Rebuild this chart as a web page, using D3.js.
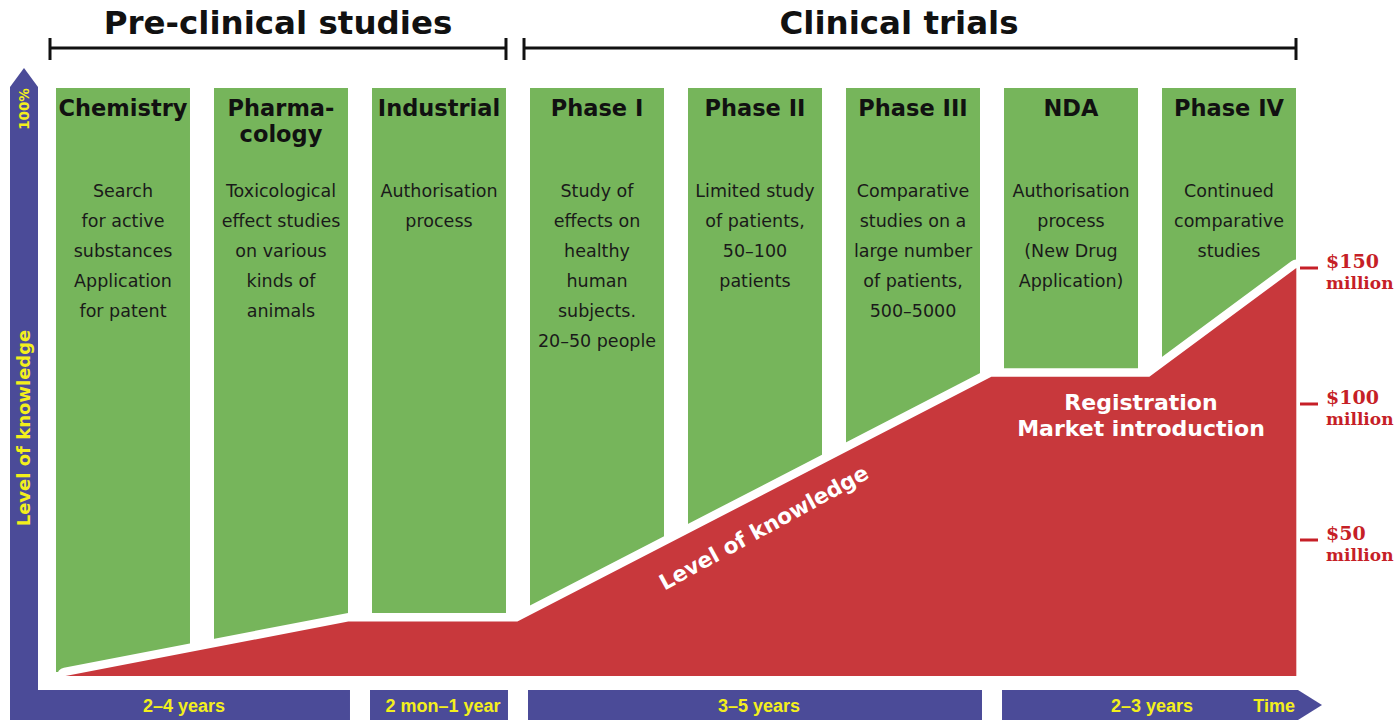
<!DOCTYPE html>
<html>
<head>
<meta charset="utf-8">
<script src="https://cdn.jsdelivr.net/npm/d3@7"></script>
<style>
  body { margin: 0; background: #fff; }
  svg { display: block; }
</style>
</head>
<body>
<svg id="chart"></svg>
<script>
// stages of drug development (one green column each)
const stageTitles = [
    ["Chemistry"], ["Pharma-", "cology"], ["Industrial"], ["Phase I"],
    ["Phase II"], ["Phase III"], ["NDA"], ["Phase IV"]
];
const stageNotes = [
    ["Search", "for active", "substances", "Application", "for patent"],
    ["Toxicological", "effect studies", "on various", "kinds of", "animals"],
    ["Authorisation", "process"],
    ["Study of", "effects on", "healthy", "human", "subjects.", "20–50 people"],
    ["Limited study", "of patients,", "50–100", "patients"],
    ["Comparative", "studies on a", "large number", "of patients,", "500–5000"],
    ["Authorisation", "process", "(New Drug", "Application)"],
    ["Continued", "comparative", "studies"]
];

// brackets on top
const groupLabels = ["Pre-clinical studies", "Clinical trials"];
const groupSpans = [[0, 2], [3, 7]];

// durations along the time axis
const durationLabels = ["2–4 years", "2 mon–1 year", "3–5 years", "2–3 years"];
const durationSpans = [[0, 1], [2, 2], [3, 5], [6, 7]];

// cumulative cost / level of knowledge, position in stage units
const knowledgeStage = [0.06, 1.85, 2.92, 5.92, 6.92, 7.85];
const knowledgeCost = [0, 20, 20, 110, 110, 150];

const costTicks = [50, 100, 150];

const BLUE = "#4b4b98", GREEN = "#76b55b", RED = "#c8383c", YELLOW = "#f3ef1c", TICKRED = "#c61f27";
const SANS = "DejaVu Sans, Verdana, sans-serif";

class PipelineChart {

    constructor(svg, width = 1399, height = 721) {
        this.svg = d3.select(svg).attr("width", width).attr("height", height);
        this.width = width;
        this.height = height;
    }

    initialize() {
        this.x = d3.scaleBand()
            .domain(d3.range(stageTitles.length))
            .range([56, 1296])
            .paddingInner(0.152);
        this.stageX = d3.scaleLinear()
            .domain([0, stageTitles.length])
            .range([56, 56 + this.x.step() * stageTitles.length]);
        this.y = d3.scaleLinear().domain([0, 150]).range([676, 268]);

        this.drawAxes();
        this.drawColumns();
        this.drawKnowledge();
        this.drawBrackets();
        this.drawDurations();
        this.drawCostTicks();
    }

    drawAxes() {
        // vertical arrow of the L
        this.svg.append("path")
            .attr("d", "M10,720 L10,87 L24,68 L38,87 L38,720 Z")
            .attr("fill", BLUE);

        const g = this.svg.append("g").attr("fill", YELLOW)
            .attr("font-family", SANS)
            .attr("font-weight", "bold");
        g.append("text")
            .attr("transform", "translate(29,109) rotate(-90)")
            .attr("text-anchor", "middle")
            .attr("font-size", 13.5)
            .text("100%");
        g.append("text")
            .attr("transform", "translate(30,428) rotate(-90)")
            .attr("text-anchor", "middle")
            .attr("font-size", 18)
            .text("Level of knowledge");
    }

    drawColumns() {
        const x = this.x;
        const cols = this.svg.append("g").selectAll("g")
            .data(stageTitles)
            .join("g")
            .attr("transform", (d, i) => `translate(${x(i)},0)`);

        cols.append("rect")
            .attr("y", 88)
            .attr("width", x.bandwidth())
            .attr("height", 676 - 88 - 4)
            .attr("fill", GREEN);

        cols.append("text")
            .attr("x", x.bandwidth() / 2)
            .attr("text-anchor", "middle")
            .attr("font-family", SANS)
            .attr("font-weight", "bold")
            .attr("font-size", 22.5)
            .attr("fill", "#111")
            .selectAll("tspan")
            .data(d => d)
            .join("tspan")
            .attr("x", x.bandwidth() / 2)
            .attr("y", (d, i) => 116 + i * 26)
            .text(d => d);

        cols.append("text")
            .attr("text-anchor", "middle")
            .attr("font-family", SANS)
            .attr("font-size", 17.5)
            .attr("fill", "#1a1a1a")
            .selectAll("tspan")
            .data((d, i) => stageNotes[i])
            .join("tspan")
            .attr("x", x.bandwidth() / 2)
            .attr("y", (d, i) => 197 + i * 30)
            .text(d => d);
    }

    drawKnowledge() {
        const pts = knowledgeStage.map((s, i) => ({ s: s, cost: knowledgeCost[i] }));
        const area = d3.area()
            .x(d => this.stageX(d.s))
            .y0(this.y(0))
            .y1(d => this.y(d.cost));

        // white band separating the red area from the columns
        this.svg.append("path")
            .datum(pts)
            .attr("d", area)
            .attr("fill", "#fff")
            .attr("stroke", "#fff")
            .attr("stroke-width", 17)
            .attr("stroke-linejoin", "round");
        this.svg.append("path")
            .datum(pts)
            .attr("d", area)
            .attr("fill", RED);

        // label along the rising clinical segment
        const x0 = this.stageX(pts[2].s), y0 = this.y(pts[2].cost);
        const x1 = this.stageX(pts[3].s), y1 = this.y(pts[3].cost);
        const ang = Math.atan2(y1 - y0, x1 - x0) * 180 / Math.PI;
        const t = 0.49;
        const cx = x0 + (x1 - x0) * t, cy = y0 + (y1 - y0) * t;
        this.svg.append("text")
            .attr("transform", `translate(${cx},${cy}) rotate(${ang - 1.5}) translate(0,37)`)
            .attr("text-anchor", "middle")
            .attr("font-family", SANS)
            .attr("font-weight", "bold")
            .attr("font-size", 21.5)
            .attr("fill", "#fff")
            .text("Level of knowledge");

        const reg = this.svg.append("text")
            .attr("text-anchor", "middle")
            .attr("font-family", SANS)
            .attr("font-weight", "bold")
            .attr("font-size", 22)
            .attr("fill", "#fff");
        reg.append("tspan").attr("x", 1141).attr("y", 410).text("Registration");
        reg.append("tspan").attr("x", 1141).attr("y", 436).text("Market introduction");
    }

    drawBrackets() {
        const x = this.x;
        groupLabels.forEach((label, i) => {
            const [a, b] = groupSpans[i];
            const xa = x(a) - 6, xb = x(b) + x.bandwidth();
            const g = this.svg.append("g").attr("stroke", "#111").attr("stroke-width", 3);
            g.append("line").attr("x1", xa).attr("x2", xb).attr("y1", 48).attr("y2", 48);
            g.append("line").attr("x1", xa).attr("x2", xa).attr("y1", 38).attr("y2", 60);
            g.append("line").attr("x1", xb).attr("x2", xb).attr("y1", 38).attr("y2", 60);
            // clinical title sits a little left of its bracket centre
            this.svg.append("text")
                .attr("x", (xa + xb) / 2 - (i === 1 ? 11 : 0))
                .attr("y", 34)
                .attr("text-anchor", "middle")
                .attr("font-family", SANS)
                .attr("font-weight", "bold")
                .attr("font-size", 32.5)
                .attr("fill", "#111")
                .text(label);
        });
    }

    drawDurations() {
        const x = this.x;
        const top = 690, h = 30;
        const font = "Liberation Sans, Arial, sans-serif";
        durationLabels.forEach((label, i) => {
            const [a, b] = durationSpans[i];
            const xa = i === 0 ? 10 : x(a) - 2;
            const xb = x(b) + x.bandwidth() + 2;
            const last = i === durationLabels.length - 1;
            const d = last
                ? `M${xa},${top} L${xb},${top} L${xb + 24},${top + h / 2} L${xb},${top + h} L${xa},${top + h} Z`
                : `M${xa},${top} L${xb},${top} L${xb},${top + h} L${xa},${top + h} Z`;
            this.svg.append("path").attr("d", d).attr("fill", BLUE);
            this.svg.append("text")
                .attr("x", last ? 1152 : (xa + xb) / 2 + 4)
                .attr("y", top + 22)
                .attr("text-anchor", "middle")
                .attr("font-family", font)
                .attr("font-weight", "bold")
                .attr("font-size", 18)
                .attr("fill", YELLOW)
                .text(label);
            if (last) {
                this.svg.append("text")
                    .attr("x", xb - 3)
                    .attr("y", top + 22)
                    .attr("text-anchor", "end")
                    .attr("font-family", font)
                    .attr("font-weight", "bold")
                    .attr("font-size", 18)
                    .attr("fill", YELLOW)
                    .text("Time");
            }
        });
    }

    drawCostTicks() {
        const g = this.svg.append("g").selectAll("g")
            .data(costTicks)
            .join("g")
            .attr("transform", d => `translate(1300,${this.y(d)})`);
        g.append("line")
            .attr("x1", 0).attr("x2", 18)
            .attr("stroke", TICKRED).attr("stroke-width", 3);
        const t = g.append("text")
            .attr("font-family", "DejaVu Serif, Georgia, serif")
            .attr("font-weight", "bold")
            .attr("fill", TICKRED);
        t.append("tspan").attr("x", 26).attr("y", 0).attr("font-size", 19).text(d => "$" + d);
        t.append("tspan").attr("x", 26).attr("y", 21).attr("font-size", 17).text("million");
    }
}

const chart = new PipelineChart(document.getElementById("chart"));
chart.initialize();
</script>
</body>
</html>
